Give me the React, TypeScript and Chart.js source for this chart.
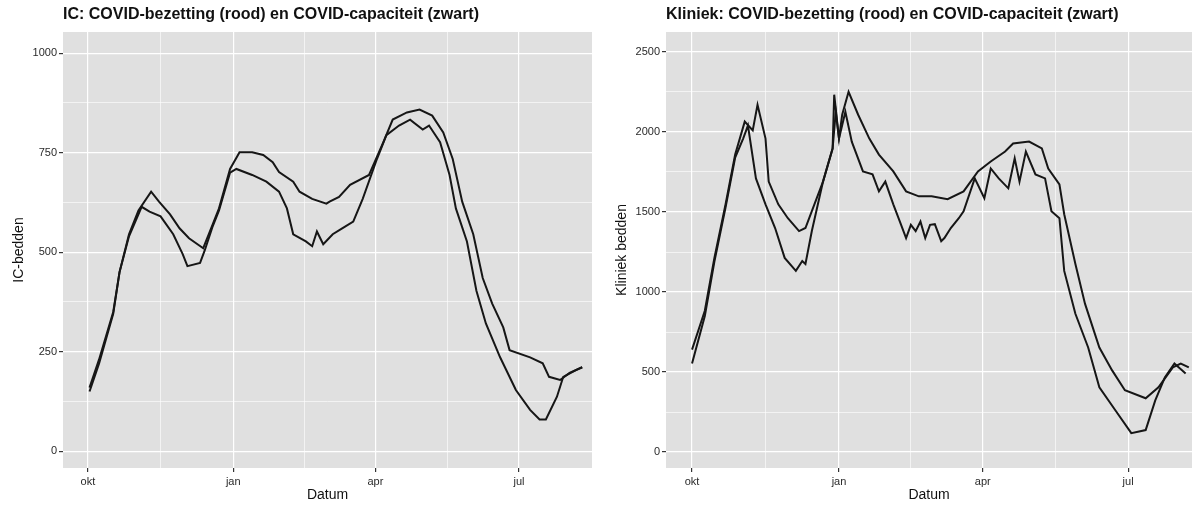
import React, { useEffect, useRef } from "react";
import { Chart, registerables } from "chart.js";
Chart.register(...registerables);

// ---- Data (days since 1 Oct 2020) ----
const icCapDays = [1, 7, 16, 20, 26, 32, 40, 45, 52, 58, 64, 73, 79, 83, 90, 96, 104, 111, 117, 121, 130, 134, 142, 151, 153, 159, 166, 178, 187, 193, 202, 210, 218, 225, 231, 237, 244, 250, 256, 263, 267, 280, 288, 292, 299, 305, 313];
const icCapValues = [160, 230, 350, 450, 545, 605, 652, 627, 595, 560, 535, 510, 570, 610, 709, 751, 751, 744, 726, 701, 677, 652, 634, 622, 627, 639, 669, 694, 776, 833, 851, 858, 843, 801, 734, 627, 545, 435, 371, 311, 254, 236, 221, 187, 179, 197, 211];

const icOccDays = [1, 7, 16, 20, 26, 34, 39, 46, 54, 60, 63, 71, 74, 79, 83, 90, 94, 104, 113, 121, 126, 130, 138, 142, 145, 149, 155, 161, 168, 174, 183, 189, 197, 204, 212, 216, 223, 229, 233, 240, 246, 252, 261, 271, 280, 286, 290, 297, 301, 309, 313];
const icOccValues = [150, 220, 345, 450, 540, 614, 602, 590, 545, 495, 465, 473, 505, 565, 605, 700, 709, 694, 677, 652, 610, 545, 527, 515, 552, 520, 545, 560, 577, 634, 734, 794, 818, 833, 808, 818, 776, 694, 610, 527, 403, 321, 236, 154, 104, 80, 80, 137, 187, 204, 211];

const klCapDays = [0, 8, 14, 21, 27, 33, 38, 41, 46, 48, 54, 60, 67, 71, 75, 82, 88, 89, 92, 94, 98, 104, 111, 117, 126, 134, 142, 150, 160, 170, 179, 187, 196, 201, 211, 219, 223, 230, 233, 240, 246, 255, 263, 271, 284, 292, 301, 306, 311];
const klCapValues = [640, 883, 1213, 1548, 1859, 2065, 2010, 2170, 1959, 1690, 1548, 1461, 1381, 1400, 1505, 1690, 1897, 2233, 1959, 2108, 2251, 2108, 1959, 1859, 1754, 1629, 1598, 1598, 1580, 1629, 1754, 1816, 1878, 1928, 1940, 1897, 1772, 1673, 1486, 1175, 927, 653, 510, 386, 336, 404, 529, 553, 529];

const klOccDays = [0, 8, 14, 21, 27, 32, 35, 40, 46, 52, 58, 65, 69, 71, 75, 82, 88, 90, 92, 96, 100, 107, 113, 117, 121, 126, 130, 134, 137, 140, 143, 146, 149, 152, 156, 158, 162, 167, 170, 177, 183, 187, 192, 198, 202, 205, 209, 215, 221, 225, 230, 233, 240, 248, 255, 265, 275, 284, 290, 296, 302, 309];
const klOccValues = [553, 850, 1190, 1530, 1840, 1959, 2040, 1710, 1548, 1400, 1213, 1132, 1194, 1175, 1381, 1690, 1897, 2127, 1959, 2127, 1940, 1754, 1735, 1629, 1690, 1548, 1443, 1337, 1420, 1380, 1440, 1337, 1420, 1424, 1318, 1337, 1400, 1461, 1505, 1710, 1586, 1772, 1710, 1648, 1835, 1690, 1878, 1735, 1710, 1505, 1461, 1132, 864, 653, 404, 261, 118, 137, 323, 466, 553, 491];

const xTickDays = [0, 92, 182, 273];
const xMinorDays = [46, 137, 227.5];
const xTickLabels = ["okt", "jan", "apr", "jul"];
const icYTicks = [0, 250, 500, 750, 1000];
const klYTicks = [0, 500, 1000, 1500, 2000, 2500];

const icTitle = "IC: COVID-bezetting (rood) en COVID-capaciteit (zwart)";
const klTitle = "Kliniek: COVID-bezetting (rood) en COVID-capaciteit (zwart)";
const icYLabel = "IC-bedden";
const klYLabel = "Kliniek bedden";
const xLabel = "Datum";

const FONT = "'Liberation Sans', Arial, sans-serif";

function pairs(days: number[], vals: number[]) {
  return days.map((d, i) => ({ x: d, y: vals[i] }));
}

type PanelProps = {
  width: number;
  title: string;
  yLabel: string;
  capDays: number[];
  capVals: number[];
  occDays: number[];
  occVals: number[];
  yTicks: number[];
  yMin: number;
  yMax: number;
  xMin: number;
  xMax: number;
  padRight: number;
};

function Panel(p: PanelProps) {
  const ref = useRef<HTMLCanvasElement | null>(null);
  useEffect(() => {
    if (!ref.current) return;
    const yStep = p.yTicks[1] - p.yTicks[0];
    const yMinor = p.yTicks.map((t) => t + yStep / 2).filter((t) => t < p.yMax);
    const bgPlugin = {
      id: "panelBg",
      beforeDraw(chart: any) {
        const { ctx, chartArea } = chart;
        ctx.save();
        ctx.fillStyle = "#e0e0e0";
        ctx.fillRect(chartArea.left, chartArea.top, chartArea.right - chartArea.left, chartArea.bottom - chartArea.top);
        ctx.restore();
      },
      afterDraw(chart: any) {
        const { ctx, chartArea } = chart;
        ctx.save();
        ctx.fillStyle = "#111";
        ctx.font = `bold 16px ${FONT}`;
        ctx.textBaseline = "middle";
        ctx.textAlign = "left";
        ctx.fillText(p.title, chartArea.left, 15);
        ctx.restore();
      },
    };
    const chart = new Chart(ref.current, {
      type: "line",
      data: {
        datasets: [
          {
            label: "capaciteit",
            data: pairs(p.capDays, p.capVals),
            borderColor: "#161616",
            borderWidth: 2,
            pointRadius: 0,
            tension: 0,
          },
          {
            label: "bezetting",
            data: pairs(p.occDays, p.occVals),
            borderColor: "#161616",
            borderWidth: 2,
            pointRadius: 0,
            tension: 0,
          },
        ],
      },
      options: {
        responsive: false,
        animation: false,
        layout: { padding: { top: 32, right: p.padRight, left: 0, bottom: 0 } },
        plugins: { legend: { display: false }, tooltip: { enabled: false }, title: { display: false } },
        scales: {
          x: {
            type: "linear",
            min: p.xMin,
            max: p.xMax,
            afterBuildTicks: (scale: any) => {
              scale.ticks = [...xTickDays, ...xMinorDays].map((v) => ({ value: v }));
            },
            afterFit: (scale: any) => {
              scale.height = 37;
            },
            ticks: {
              autoSkip: false,
              maxRotation: 0,
              padding: 3,
              color: "#2a2a2a",
              font: { family: FONT, size: 11 },
              callback: (v: any) => {
                const i = xTickDays.indexOf(Number(v));
                return i >= 0 ? xTickLabels[i] : "";
              },
            },
            grid: {
              color: "#ffffff",
              lineWidth: (c: any) => (c.tick && xTickDays.includes(c.tick.value) ? 1.2 : 0.6),
              tickColor: (c: any) => (c.tick && xTickDays.includes(c.tick.value) ? "#333" : "rgba(0,0,0,0)"),
              tickLength: 4,
            },
            border: { display: false },
            title: { display: true, text: xLabel, color: "#111", font: { family: FONT, size: 14 }, padding: { top: 0, bottom: 1 } },
          },
          y: {
            type: "linear",
            min: p.yMin,
            max: p.yMax,
            afterBuildTicks: (scale: any) => {
              scale.ticks = [...p.yTicks, ...yMinor].map((v) => ({ value: v }));
            },
            afterFit: (scale: any) => {
              scale.width = 63;
            },
            ticks: {
              autoSkip: false,
              padding: 2,
              color: "#2a2a2a",
              font: { family: FONT, size: 11 },
              callback: (v: any) => (p.yTicks.includes(Number(v)) ? String(v) : ""),
            },
            grid: {
              color: "#ffffff",
              lineWidth: (c: any) => (c.tick && p.yTicks.includes(c.tick.value) ? 1.2 : 0.6),
              tickColor: (c: any) => (c.tick && p.yTicks.includes(c.tick.value) ? "#333" : "rgba(0,0,0,0)"),
              tickLength: 4,
            },
            border: { display: false },
            title: { display: true, text: p.yLabel, color: "#111", font: { family: FONT, size: 14 }, padding: { top: 11, bottom: 0 } },
          },
        },
      },
      plugins: [bgPlugin],
    } as any);
    return () => chart.destroy();
  }, []);
  return <canvas ref={ref} width={p.width} height={505} style={{ display: "block", width: p.width, height: 505 }} />;
}

export default function App() {
  return (
    <div style={{ position: "absolute", left: 0, top: 0, width: 1198, height: 505, background: "#fff", overflow: "hidden" }}>
      <div style={{ position: "absolute", left: 0, top: 0 }}>
        <Panel
          width={599}
          title={icTitle}
          yLabel={icYLabel}
          capDays={icCapDays}
          capVals={icCapValues}
          occDays={icOccDays}
          occVals={icOccValues}
          yTicks={icYTicks}
          yMin={-42}
          yMax={1053}
          xMin={-15.8}
          xMax={319.2}
          padRight={7}
        />
      </div>
      <div style={{ position: "absolute", left: 603, top: 0 }}>
        <Panel
          width={595}
          title={klTitle}
          yLabel={klYLabel}
          capDays={klCapDays}
          capVals={klCapValues}
          occDays={klOccDays}
          occVals={klOccValues}
          yTicks={klYTicks}
          yMin={-100}
          yMax={2625}
          xMin={-16.3}
          xMax={313}
          padRight={6}
        />
      </div>
    </div>
  );
}
